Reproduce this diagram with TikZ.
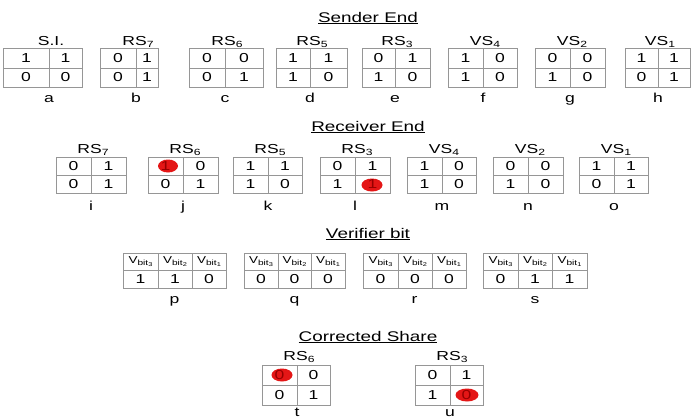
\documentclass[tikz,border=0pt]{standalone}
\usepackage{fontspec}
\setmainfont{Liberation Sans}[FakeStretch=1.35]
\definecolor{markred}{RGB}{228,22,22}
\definecolor{marktext}{RGB}{150,0,0}
\definecolor{gridgray}{RGB}{150,150,150}

% subscript for share names (RS_7, VS_4, ...)
\newcommand\subidx[1]{\raisebox{-0.4ex}{\fontsize{9}{9}\selectfont #1}}
% verifier bit header V_{bit_k}
\newcommand\vbit[1]{V\raisebox{-0.35ex}{\fontsize{7.5}{7.5}\selectfont bit\raisebox{-0.35ex}{\fontsize{5.5}{5.5}\selectfont #1}}}
\newcommand\marked[1]{\textcolor{marktext}{#1}}

% 2x2 share grid: left, divider, right, title, v11, v12, v21, v22, label
% uses \gt \gm \gb (row lines), \tb (title baseline), \lb (label baseline)
\newcommand\sharegrid[9]{%
  \draw[gridline] (#1,\gt) rectangle (#3,\gb)
        (#1,\gm) -- (#3,\gm) (#2,\gt) -- (#2,\gb);
  \node[titletext] (title-#9) at (#2+2,\tb) {#4};
  \node[celltext] (c11-#9) at ({(#1+#2)/2},{(\gt+\gm)/2}) {#5};
  \node[celltext] (c12-#9) at ({(#2+#3)/2},{(\gt+\gm)/2}) {#6};
  \node[celltext] (c21-#9) at ({(#1+#2)/2},{(\gm+\gb)/2}) {#7};
  \node[celltext] (c22-#9) at ({(#2+#3)/2},{(\gm+\gb)/2}) {#8};
  \node[labeltext] (label-#9) at (#2,\lb) {#9};
}

% verifier table: x0, x1, x2, x3, v3, v2, v1, label
\newcommand\vtable[8]{%
  \draw[gridline] (#1,253) rectangle (#4,288)
        (#1,270) -- (#4,270) (#2,253) -- (#2,288) (#3,253) -- (#3,288);
  \node[headtext] (h3-#8) at ({(#1+#2)/2},261.5) {\vbit{3}};
  \node[headtext] (h2-#8) at ({(#2+#3)/2},261.5) {\vbit{2}};
  \node[headtext] (h1-#8) at ({(#3+#4)/2},261.5) {\vbit{1}};
  \node[celltext] (v3-#8) at ({(#1+#2)/2},279) {#5};
  \node[celltext] (v2-#8) at ({(#2+#3)/2},279) {#6};
  \node[celltext] (v1-#8) at ({(#3+#4)/2},279) {#7};
  \node[labeltext] (label-#8) at ({(#1+#4)/2},303) {#8};
}

\begin{document}
\begin{tikzpicture}[x=1pt,y=-1pt,
  gridline/.style={draw=gridgray, line width=0.8pt},
  celltext/.style={font=\fontsize{13}{13}\selectfont, inner sep=0pt, anchor=center},
  headtext/.style={font=\fontsize{10}{10}\selectfont, inner sep=0pt, anchor=center},
  titletext/.style={font=\fontsize{13}{13}\selectfont, inner sep=0pt, anchor=base},
  labeltext/.style={font=\fontsize{13}{13}\selectfont, inner sep=0pt, anchor=base},
  section/.style={font=\fontsize{14}{14}\selectfont, inner sep=0pt, anchor=base},
  errmark/.style={fill=markred}]
\useasboundingbox[fill=white] (0,0) rectangle (691,418);

% ---------- Sender End ----------
\node[section] (sender) at (368,22) {\underline{Sender End}};
\def\gt{48}\def\gm{68}\def\gb{87}\def\tb{45}\def\lb{102}
\sharegrid{3}{49}{82}{S.I.}{1}{1}{0}{0}{a}
\sharegrid{100}{136}{158}{RS\subidx{7}}{0}{1}{0}{1}{b}
\sharegrid{189}{225}{263}{RS\subidx{6}}{0}{0}{0}{1}{c}
\sharegrid{276}{310}{347}{RS\subidx{5}}{1}{1}{1}{0}{d}
\sharegrid{362}{395}{430}{RS\subidx{3}}{0}{1}{1}{0}{e}
\sharegrid{448}{483}{517}{VS\subidx{4}}{1}{0}{1}{0}{f}
\sharegrid{535}{570}{605}{VS\subidx{2}}{0}{0}{1}{0}{g}
\sharegrid{625}{658}{690}{VS\subidx{1}}{1}{1}{0}{1}{h}

% ---------- Receiver End ----------
\node[section] (receiver) at (368,131) {\underline{Receiver End}};
\def\gt{157}\def\gm{175}\def\gb{193}\def\tb{153}\def\lb{210}
\fill[errmark] (168,166) ellipse [x radius=10, y radius=6.5];
\fill[errmark] (372,185) ellipse [x radius=10.5, y radius=6.5];
\sharegrid{56}{91}{126}{RS\subidx{7}}{0}{1}{0}{1}{i}
\sharegrid{148}{183}{218}{RS\subidx{6}}{\marked{1}}{0}{0}{1}{j}
\sharegrid{233}{268}{302}{RS\subidx{5}}{1}{1}{1}{0}{k}
\sharegrid{320}{355}{390}{RS\subidx{3}}{0}{1}{1}{\marked{1}}{l}
\sharegrid{407}{442}{476}{VS\subidx{4}}{1}{0}{1}{0}{m}
\sharegrid{493}{528}{563}{VS\subidx{2}}{0}{0}{1}{0}{n}
\sharegrid{579}{614}{648}{VS\subidx{1}}{1}{1}{0}{1}{o}

% ---------- Verifier bit ----------
\node[section] (verifier) at (368,238) {\underline{Verifier bit}};
\vtable{123}{158}{192}{226}{1}{1}{0}{p}
\vtable{244}{278}{311}{345}{0}{0}{0}{q}
\vtable{363}{398}{432}{466}{0}{0}{0}{r}
\vtable{483}{518}{552}{587}{0}{1}{1}{s}

% ---------- Corrected Share ----------
\node[section] (corrected) at (368,341) {\underline{Corrected Share}};
\def\gt{365}\def\gm{385}\def\gb{405}\def\tb{360}\def\lb{416.5}
\fill[errmark] (282,375) ellipse [x radius=10.5, y radius=6.5];
\fill[errmark] (467,395) ellipse [x radius=11.5, y radius=6.5];
\sharegrid{262}{297}{330}{RS\subidx{6}}{\marked{0}}{0}{0}{1}{t}
\sharegrid{415}{450}{483}{RS\subidx{3}}{0}{1}{1}{\marked{0}}{u}
\end{tikzpicture}
\end{document}
